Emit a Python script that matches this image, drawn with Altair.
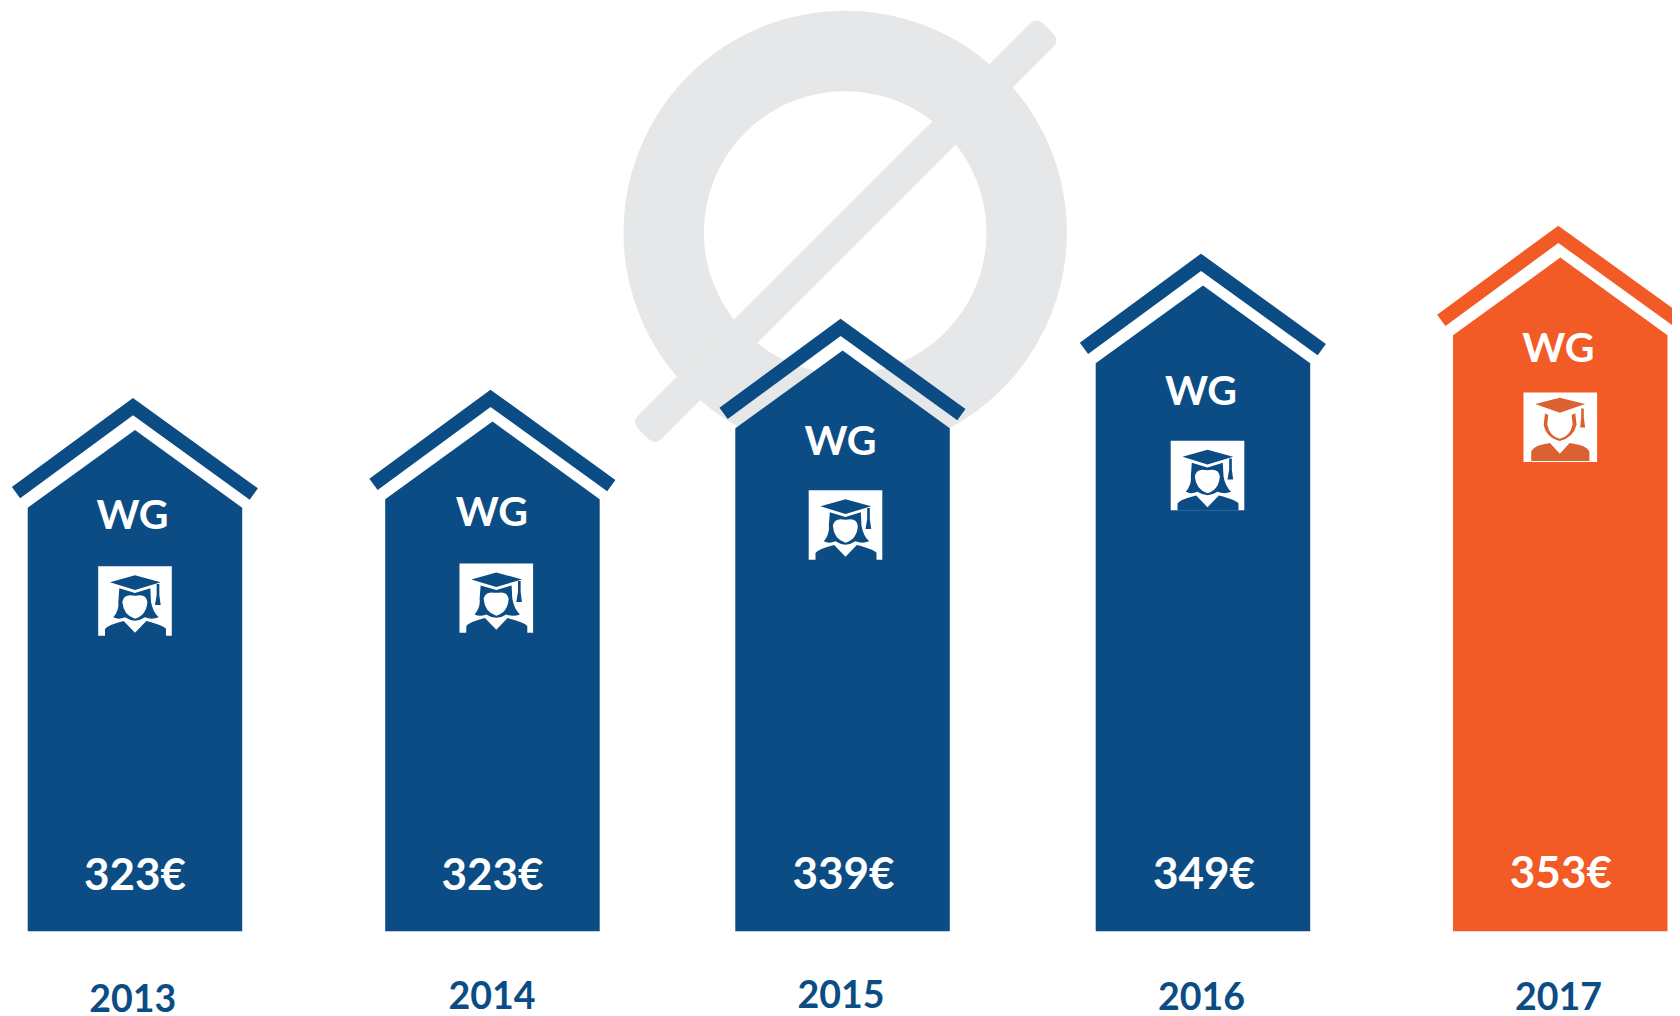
import re
import altair as alt
import pandas as pd

# ---- values -----------------------------------------------------------
YEARS = ["2013", "2014", "2015", "2016", "2017"]
RENT_LABELS = ["323€", "323€", "339€", "349€", "353€"]
BAR_HEIGHTS = [423.6, 432.0, 503.0, 568.0, 596.0]       # eave height over the baseline
BAR_LEFTS = [27.7, 385.2, 735.3, 1095.7, 1453.0]
BAR_WIDTH = 214.5
WG_X = [132.5, 491.8, 840.5, 1201.0, 1558.3]
WG_HEIGHT = [417.0, 420.3, 491.3, 541.3, 584.3]
ICON_X = [135.0, 496.3, 845.5, 1207.5, 1560.3]
ICON_HEIGHT = [330.3, 333.2, 406.3, 455.8, 504.0]
RENT_X = [135.0, 492.5, 843.5, 1204.0, 1560.9]
RENT_HEIGHT = [57.0, 56.8, 57.6, 58.0, 58.6]
YEAR_X = [132.7, 492.0, 841.0, 1201.5, 1558.4]
YEAR_HEIGHT = [-67.0, -64.0, -63.0, -65.4, -65.4]
BLUE, ORANGE, GREY = "#0C4C85", "#F25B25", "#E6E7E8"
BAR_COLORS = [BLUE, BLUE, BLUE, BLUE, ORANGE]

W, H = 1664, 1007
X_SCALE = alt.Scale(domain=[8, 8 + W], nice=False, zero=False)
Y_SCALE = alt.Scale(domain=[931.3 - (8 + H), 931.3 - 8], nice=False, zero=False)
COLOR = alt.Color("year:N", legend=None,
                  scale=alt.Scale(domain=YEARS, range=BAR_COLORS))
xe = lambda f: alt.X(f, type="quantitative", scale=X_SCALE, axis=None)
ye = lambda f: alt.Y(f, type="quantitative", scale=Y_SCALE, axis=None)

# ---- house outlines built from the bar values --------------------------
body, roof = [], []
for yr, left, h in zip(YEARS, BAR_LEFTS, BAR_HEIGHTS):
    for dx, dh in [(0, 0), (107.3, 77.7), (BAR_WIDTH, 0)]:
        body.append(dict(year=yr, x=left + dx, h=h + dh, base=0))
    for dx, dh in [(-11.7, 15.0), (105.3, 101.0), (226.1, 13.7)]:
        roof.append(dict(year=yr, x=left + dx, h=h + dh))
body, roof = pd.DataFrame(body), pd.DataFrame(roof)

houses = alt.Chart(body).mark_area(interpolate="linear", opacity=1).encode(
    x=xe("x"), y=ye("h"), y2=alt.Y2("base"), color=COLOR, detail="year:N")
roofs = alt.Chart(roof).mark_line(
    strokeWidth=14, strokeCap="butt", strokeJoin="miter", strokeMiterLimit=20,
    opacity=1, clip=False).encode(x=xe("x"), y=ye("h"), color=COLOR, detail="year:N")

# ---- the grey diameter sign behind the houses ----------------------------
sign = pd.DataFrame({"x": [845.2], "h": [931.3 - 232.5]})
ring = alt.Chart(sign).mark_point(
    shape="circle", filled=False, stroke=GREY, strokeWidth=80.4, opacity=1,
    size=363 ** 2).encode(x=xe("x"), y=ye("h"))

S, L, HW, R = 300.0, 286.5, 16.5, 10.0
slash_path = (
    f"M{(-L+R)/S:.4f},{-HW/S:.4f} L{(L-R)/S:.4f},{-HW/S:.4f} "
    f"Q{L/S:.4f},{-HW/S:.4f} {L/S:.4f},{(-HW+R)/S:.4f} L{L/S:.4f},{(HW-R)/S:.4f} "
    f"Q{L/S:.4f},{HW/S:.4f} {(L-R)/S:.4f},{HW/S:.4f} L{(-L+R)/S:.4f},{HW/S:.4f} "
    f"Q{-L/S:.4f},{HW/S:.4f} {-L/S:.4f},{(HW-R)/S:.4f} L{-L/S:.4f},{(-HW+R)/S:.4f} "
    f"Q{-L/S:.4f},{-HW/S:.4f} {(-L+R)/S:.4f},{-HW/S:.4f} Z"
)
slash_df = pd.DataFrame({"x": [845.8], "h": [931.3 - 231.2]})
slash = alt.Chart(slash_df).mark_point(
    shape=slash_path, filled=True, fill=GREY, stroke=None, opacity=1, angle=315,
    size=(2 * S) ** 2).encode(x=xe("x"), y=ye("h"))

# ---- icons ------------------------------------------------------------
def glyph(d, cx, cy, r=111.0):
    def fix(m):
        return f"{(float(m.group(1)) - cx) / r:.4f},{(float(m.group(2)) - cy) / r:.4f}"
    return re.sub(r"(-?[\d.]+),(-?[\d.]+)", fix, d)

FEMALE = glyph(
    "M60,67 L135,46 L212,67 L135,90 Z "
    "M200,72 L208,72 L208,105 L212,135 L195,135 L200,105 Z "
    "M45,228 L45,207 Q50,196 101,183 L135,218 L169,183 Q222,196 228,207 L228,228 Z "
    "M88,85 L135,99 L181,85 L183,125 Q188,155 206,172 Q185,180 165,172 "
    "Q150,182 135,182 Q120,182 105,172 Q85,180 70,172 Q88,150 85,125 Z "
    "M97,125 Q100,165 135,176 Q170,165 172,125 Q168,106 150,106 "
    "Q135,108 120,106 Q102,106 97,125 Z",
    135, 123)
MALE = glyph(
    "M60,47 L135,28 L212,47 L135,73 Z "
    "M200,60 L208,60 L208,88 L212,118 L197,118 L200,88 Z "
    "M48,220 L48,192 Q55,172 105,165 L135,198 L165,165 Q218,172 225,192 L225,220 Z "
    "M90,75 L100,80 L97,108 Q103,145 135,152 Q167,145 174,108 L171,80 L182,75 "
    "L186,110 Q176,150 135,159 Q94,150 86,110 Z",
    136.5, 117.5)

icons = pd.DataFrame({
    "year": YEARS, "x": ICON_X, "h": ICON_HEIGHT,
    "x0": [x - 36.8 for x in ICON_X], "x1": [x + 36.8 for x in ICON_X],
    "h0": [h - 34.7 for h in ICON_HEIGHT], "h1": [h + 34.7 for h in ICON_HEIGHT],
})
paper = alt.Chart(icons).mark_rect(fill="white", opacity=1).encode(
    x=xe("x0"), x2=alt.X2("x1"), y=ye("h0"), y2=alt.Y2("h1"))
female = alt.Chart(icons[icons.year != "2017"]).mark_point(
    shape=FEMALE, filled=True, fill=BLUE, stroke=None, opacity=1,
    size=74 ** 2).encode(x=xe("x"), y=ye("h"))
male = alt.Chart(icons[icons.year == "2017"]).mark_point(
    shape=MALE, filled=True, fill="#DB6132", stroke=None, opacity=1,
    size=73 ** 2).encode(x=xe("x"), y=ye("h"))

# ---- text -------------------------------------------------------------
CAP = 0.358
def label(texts, xs, hs, size, color):
    df = pd.DataFrame({"t": texts, "x": xs, "h": [h - CAP * size for h in hs]})
    return alt.Chart(df).mark_text(
        font="Lato", fontWeight="bold", fontSize=size, fill=color, align="center",
        baseline="alphabetic").encode(x=xe("x"), y=ye("h"), text="t:N")

wg = label(["WG"] * 5, WG_X, WG_HEIGHT, 41, "white")
rents = label(RENT_LABELS, RENT_X, RENT_HEIGHT, 44, "white")
years = label(YEARS, YEAR_X, YEAR_HEIGHT, 37.5, BLUE)

chart = alt.layer(ring, slash, houses, roofs, paper, female, male, wg, rents, years).properties(
    width=W, height=H, padding=0, autosize=alt.AutoSizeParams(type="none")
).configure_view(stroke=None).resolve_scale(x="shared", y="shared")

chart.save("out.html", embed_options={"renderer": "svg", "actions": False})
